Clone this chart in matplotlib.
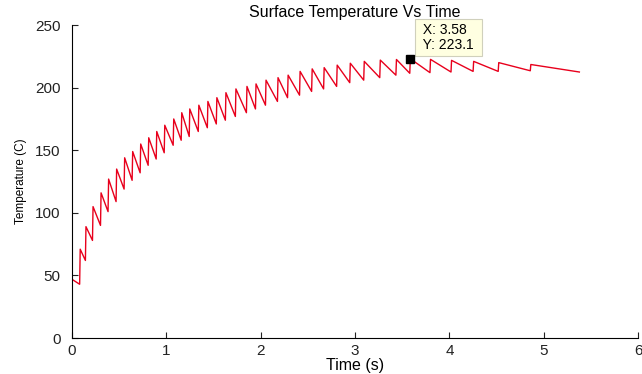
import numpy as np
import matplotlib.pyplot as plt

plt.rcParams['font.family'] = ['Liberation Sans', 'DejaVu Sans']

# start of the record
t_start = 0.0
T_start = 47.0
# time of each jump, temperature just before it and just after it
jump_t = [0.082, 0.143, 0.218, 0.303, 0.383, 0.468, 0.553, 0.638, 0.723, 0.808,
          0.893, 0.978, 1.073, 1.158, 1.243, 1.339, 1.435, 1.530, 1.626, 1.732,
          1.849, 1.945, 2.051, 2.178, 2.285, 2.412, 2.540, 2.667, 2.805, 2.944,
          3.092, 3.262, 3.433, 3.580, 3.794, 4.017, 4.251, 4.517, 4.857]
trough_T = [43, 62, 78, 90, 101, 109, 119, 126, 132, 138,
            143, 148, 154, 158, 161, 165, 168, 171, 174, 177,
            180, 183, 186, 189, 192, 194, 197, 199, 201, 204,
            206, 208, 210, 211.5, 212, 212.5, 213, 213, 213.5]
peak_T = [71, 89, 105, 116, 127, 135, 144, 149, 155, 160,
          165, 170, 175, 180, 183, 186, 189, 192, 196, 199,
          201, 203, 206, 208, 210, 213, 215, 216, 218, 219.5,
          221, 222, 222.5, 223.1, 222.6, 221.8, 221, 220, 218.5]
t_end = 5.377
T_end = 212.5

# datatip
tip_x = 3.58
tip_y = 223.1

rise = 0.006
t = [t_start]
T = [T_start]
for tj, lo, hi in zip(jump_t, trough_T, peak_T):
    t += [tj, tj + rise]
    T += [lo, hi]
t.append(t_end)
T.append(T_end)

fig = plt.figure(figsize=(6.42, 3.74), dpi=100)
ax = fig.add_axes([0.112, 0.096, 0.882, 0.837])
ax.plot(t, T, color='#e8001c', lw=1.0)

ax.plot(tip_x, tip_y, marker='s', color='black', markersize=6, zorder=5)
ax.annotate(' X: %.2f \n Y: %.1f ' % (tip_x, tip_y), xy=(tip_x, tip_y),
            xytext=(6.6, 5), textcoords='offset points', fontsize=10,
            va='bottom', ha='left', linespacing=1.1,
            bbox=dict(boxstyle='square,pad=0.3', fc='#ffffe1', ec='#d0d0bc', lw=0.8))

ax.set_xlim(0, 6)
ax.set_ylim(0, 250)
ax.set_xticks(range(0, 7))
ax.set_yticks(range(0, 251, 50))
ax.spines['top'].set_visible(False)
ax.spines['right'].set_visible(False)
ax.tick_params(direction='in', length=4, labelsize=11, colors='#222222')
ax.tick_params(axis='y', pad=8)
ax.tick_params(axis='x', pad=4)
ax.set_title('Surface Temperature Vs Time', fontsize=11.5, pad=6)
ax.set_xlabel('Time (s)', fontsize=11.5, labelpad=0)
ax.set_ylabel('Temperature (C)', fontsize=8.5, labelpad=6)

fig.savefig('out.png', dpi=100)
